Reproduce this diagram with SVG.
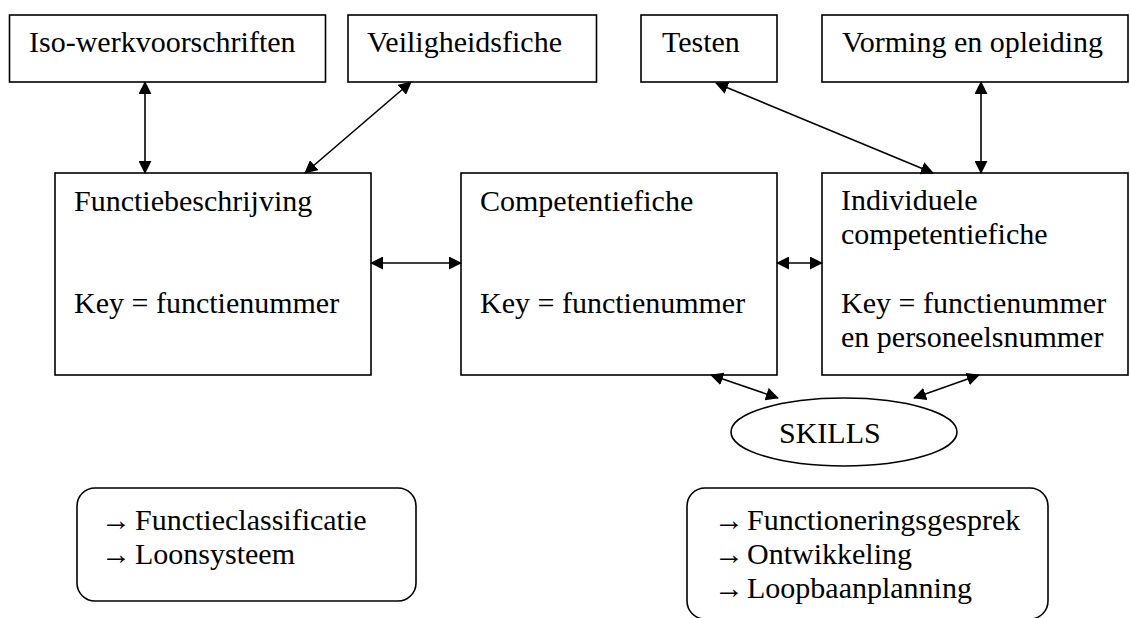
<svg xmlns="http://www.w3.org/2000/svg" width="1130" height="618" viewBox="0 0 1130 618">
<defs>
<style>
.box{fill:#fff;stroke:#000;stroke-width:1.6}
.t{font-family:"Liberation Serif","Times New Roman",serif;font-size:30px;fill:#000}
.c{stroke:#000;stroke-width:1.6;fill:none;marker-start:url(#ah);marker-end:url(#ah)}
</style>
<marker id="ah" viewBox="0 0 14 14" markerWidth="13" markerHeight="13" refX="13" refY="7" orient="auto-start-reverse" markerUnits="userSpaceOnUse">
<path d="M0,0 L14,7 L0,14 z" fill="#000"/>
</marker>
</defs>
<rect width="1130" height="618" fill="#fff"/>
<g id="iso"><rect class="box" x="9.5" y="15" width="316" height="67"/><text class="t" x="29" y="52">Iso-werkvoorschriften</text></g>
<g id="veiligheidsfiche"><rect class="box" x="348" y="15" width="248.5" height="67"/><text class="t" x="367" y="52">Veiligheidsfiche</text></g>
<g id="testen"><rect class="box" x="641" y="15" width="136" height="67"/><text class="t" x="662" y="52">Testen</text></g>
<g id="vorming"><rect class="box" x="822" y="15" width="306" height="67"/><text class="t" x="842" y="52">Vorming en opleiding</text></g>
<g id="functiebeschrijving"><rect class="box" x="55" y="173" width="316" height="202"/><text class="t" x="74" y="211">Functiebeschrijving</text><text class="t" x="74" y="313">Key = functienummer</text></g>
<g id="competentiefiche"><rect class="box" x="461" y="173" width="316" height="202"/><text class="t" x="480" y="211">Competentiefiche</text><text class="t" x="480" y="313">Key = functienummer</text></g>
<g id="individuele"><rect class="box" x="822" y="173" width="306" height="202"/><text class="t" x="841" y="210">Individuele</text><text class="t" x="841" y="244">competentiefiche</text><text class="t" x="841" y="313">Key = functienummer</text><text class="t" x="841" y="347">en personeelsnummer</text></g>
<g id="skills"><ellipse class="box" cx="844" cy="432" rx="113" ry="34"/><text class="t" x="779" y="443">SKILLS</text></g>
<g id="classificatie"><rect class="box" x="77" y="488" width="339" height="113" rx="18"/><text class="t" x="101" y="530">→</text><text class="t" x="135" y="530">Functieclassificatie</text><text class="t" x="101" y="564">→</text><text class="t" x="135" y="564">Loonsysteem</text></g>
<g id="gesprek"><rect class="box" x="687" y="488" width="361" height="131" rx="18"/><text class="t" x="714" y="530">→</text><text class="t" x="747" y="530">Functioneringsgesprek</text><text class="t" x="714" y="564">→</text><text class="t" x="747" y="564">Ontwikkeling</text><text class="t" x="714" y="598">→</text><text class="t" x="747" y="598">Loopbaanplanning</text></g>
<g id="connectors">
<line class="c" x1="145" y1="82" x2="145" y2="173"/>
<line class="c" x1="411" y1="82" x2="305" y2="173"/>
<line class="c" x1="716" y1="83" x2="933" y2="173"/>
<line class="c" x1="981" y1="82" x2="981" y2="173"/>
<line class="c" x1="371" y1="263" x2="461" y2="263"/>
<line class="c" x1="777" y1="263" x2="822" y2="263"/>
<line class="c" x1="711" y1="375" x2="778" y2="398"/>
<line class="c" x1="979" y1="375" x2="914" y2="398"/>
</g>
</svg>
